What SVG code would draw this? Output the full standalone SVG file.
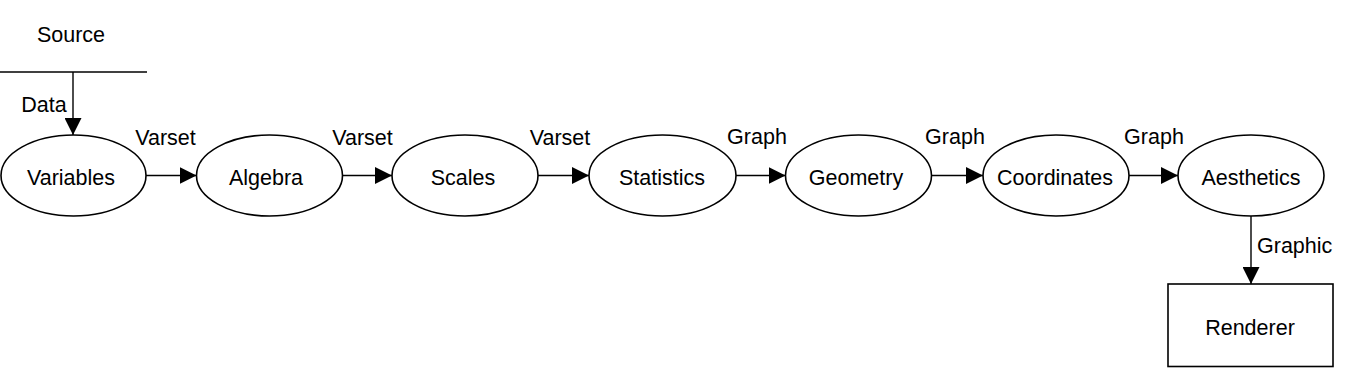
<svg xmlns="http://www.w3.org/2000/svg" width="1345" height="368" viewBox="0 0 1345 368">
<style>
  text { font-family: "Liberation Sans", Arial, sans-serif; font-size: 21.5px; fill: #000; }
  .c { text-anchor: middle; }
  .node { fill: #fff; stroke: #000; stroke-width: 1.6; }
  .edge { fill: none; stroke: #000; stroke-width: 1.4; }
</style>
<defs>
  <marker id="arr" markerUnits="userSpaceOnUse" markerWidth="17" markerHeight="17" refX="17" refY="8.5" orient="auto">
    <path d="M0,0 L17,8.5 L0,17 z" fill="#000"/>
  </marker>
</defs>
<g id="source">
  <text class="c" x="71" y="42">Source</text>
  <line x1="0" y1="72" x2="147" y2="72" stroke="#000" stroke-width="1.4"/>
</g>
<g id="connectors">
  <line class="edge" x1="73" y1="72" x2="73" y2="135" marker-end="url(#arr)"/>
  <line class="edge" x1="146" y1="175.5" x2="196.5" y2="175.5" marker-end="url(#arr)"/>
  <line class="edge" x1="342" y1="175.5" x2="392" y2="175.5" marker-end="url(#arr)"/>
  <line class="edge" x1="538" y1="175.5" x2="589" y2="175.5" marker-end="url(#arr)"/>
  <line class="edge" x1="736" y1="175.5" x2="785.5" y2="175.5" marker-end="url(#arr)"/>
  <line class="edge" x1="931" y1="175.5" x2="983" y2="175.5" marker-end="url(#arr)"/>
  <line class="edge" x1="1129" y1="175.5" x2="1178" y2="175.5" marker-end="url(#arr)"/>
  <line class="edge" x1="1251" y1="215.5" x2="1251" y2="284" marker-end="url(#arr)"/>
  <text class="c" x="44" y="112">Data</text>
  <text class="c" x="165.5" y="145">Varset</text>
  <text class="c" x="362.5" y="145">Varset</text>
  <text class="c" x="560" y="145">Varset</text>
  <text class="c" x="757" y="144">Graph</text>
  <text class="c" x="955" y="144">Graph</text>
  <text class="c" x="1154" y="144">Graph</text>
  <text x="1257" y="253">Graphic</text>
</g>
<g id="variables">
  <ellipse class="node" cx="73.5" cy="175.5" rx="72.5" ry="40.5"/>
  <text class="c" x="71" y="185">Variables</text>
</g>
<g id="algebra">
  <ellipse class="node" cx="269.5" cy="175.5" rx="73" ry="40.5"/>
  <text class="c" x="266" y="185">Algebra</text>
</g>
<g id="scales">
  <ellipse class="node" cx="465" cy="175.5" rx="73" ry="40.5"/>
  <text class="c" x="463" y="185">Scales</text>
</g>
<g id="statistics">
  <ellipse class="node" cx="662.5" cy="175.5" rx="73.5" ry="40.5"/>
  <text class="c" x="662" y="185">Statistics</text>
</g>
<g id="geometry">
  <ellipse class="node" cx="858.5" cy="175.5" rx="73" ry="40.5"/>
  <text class="c" x="856" y="185">Geometry</text>
</g>
<g id="coordinates">
  <ellipse class="node" cx="1056" cy="175.5" rx="73" ry="40.5"/>
  <text class="c" x="1055" y="185">Coordinates</text>
</g>
<g id="aesthetics">
  <ellipse class="node" cx="1251" cy="175.5" rx="73" ry="40.5"/>
  <text class="c" x="1251" y="185">Aesthetics</text>
</g>
<g id="renderer">
  <rect class="node" x="1168" y="284" width="165" height="82.5"/>
  <text class="c" x="1250" y="335">Renderer</text>
</g>
</svg>
